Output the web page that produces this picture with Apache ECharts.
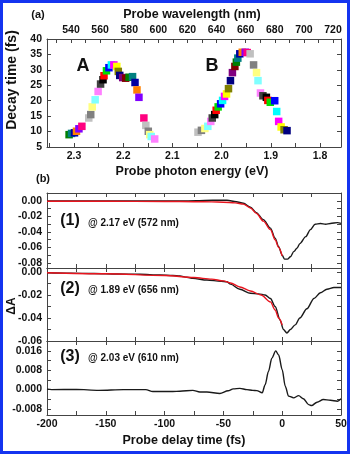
<!DOCTYPE html>
<html>
<head>
<meta charset="utf-8">
<script src="https://cdn.jsdelivr.net/npm/echarts@6/dist/echarts.min.js"></script>
<style>
  html, body { margin: 0; padding: 0; background: #fff; }
  #chart { width: 350px; height: 454px; }
</style>
</head>
<body>
<div id="chart"></div>
<script>
// panel (a): decay time vs probe photon energy
const energyA = [2.310, 2.305, 2.299, 2.295, 2.290, 2.284, 2.270, 2.266, 2.263, 2.257, 2.251, 2.246, 2.241, 2.239, 2.234, 2.229, 2.224, 2.219, 2.213, 2.210, 2.207, 2.201, 2.195, 2.188, 2.181, 2.176, 2.172, 2.168, 2.158, 2.154, 2.149, 2.146, 2.143, 2.136]
const decayA = [9.0, 9.4, 9.6, 10.1, 10.9, 11.7, 14.4, 15.5, 18.0, 20.3, 23.0, 25.4, 26.8, 28.1, 29.7, 30.7, 31.6, 31.6, 31.1, 29.5, 28.2, 27.5, 27.3, 27.6, 27.8, 25.9, 23.5, 21.1, 14.4, 12.0, 10.1, 9.0, 8.4, 7.6]
const energyB = [2.048, 2.041, 2.034, 2.028, 2.022, 2.019, 2.014, 2.011, 2.007, 2.002, 1.998, 1.994, 1.990, 1.986, 1.982, 1.978, 1.973, 1.970, 1.967, 1.963, 1.958, 1.952, 1.948, 1.942, 1.935, 1.929, 1.926, 1.921, 1.916, 1.909, 1.906, 1.901, 1.892, 1.888, 1.884, 1.879, 1.873, 1.867]
const decayB = [9.8, 10.4, 11.0, 11.7, 13.3, 14.4, 15.5, 16.9, 18.0, 19.0, 20.1, 21.4, 22.2, 23.9, 26.5, 29.1, 31.1, 32.5, 33.8, 35.2, 35.7, 35.7, 35.6, 35.2, 31.6, 29.1, 26.5, 22.5, 21.6, 21.1, 20.1, 19.5, 20.0, 16.5, 13.3, 11.5, 10.6, 10.3]

// panel (b): transients, time in fs
const time1Black = [-200, -180, -160, -140, -120, -100, -87, -73, -59, -47, -39, -33, -27, -22, -16, -10, -6, -3, 0, 2, 4.5, 7, 10, 12.5, 15, 20, 24, 28, 32.5, 37, 41, 47, 50]
const black1 = [0.000, 0.0002, 0.0001, 0.0002, 0.0001, 0.0002, 0.000, 0.0003, 0.001, 0.001, -0.001, -0.003, -0.008, -0.015, -0.024, -0.035, -0.048, -0.059, -0.070, -0.075, -0.075, -0.072, -0.065, -0.061, -0.055, -0.046, -0.037, -0.030, -0.029, -0.030, -0.029, -0.028, -0.029]
const time1Red = [-200, -150, -100, -75, -60, -50, -40, -33, -27, -22, -16, -10, -6, -3, 0]
const red1 = [-0.0003, -0.0004, -0.0006, -0.0009, -0.0012, -0.0016, -0.0025, -0.004, -0.009, -0.016, -0.026, -0.037, -0.050, -0.060, -0.071]

const time2Black = [-200, -180, -160, -140, -121, -104, -93, -87, -81, -76, -64, -52, -47, -44, -36, -27, -20, -14.5, -10, -6, -1.7, 1, 4, 7, 11, 15, 21, 27, 32.5, 38, 44, 50]
const black2 = [-0.0006, -0.001, -0.0013, -0.0017, -0.002, -0.0026, -0.003, -0.0035, -0.0045, -0.0055, -0.007, -0.008, -0.0085, -0.0105, -0.015, -0.0185, -0.019, -0.020, -0.023, -0.030, -0.042, -0.050, -0.053, -0.050, -0.046, -0.040, -0.032, -0.023, -0.018, -0.015, -0.0135, -0.0135]
const time2Red = [-200, -150, -100, -75, -60, -50, -44, -36, -27, -18, -10, -6, -3, 0]
const red2 = [-0.0006, -0.0015, -0.003, -0.0048, -0.0062, -0.0077, -0.0095, -0.013, -0.0165, -0.020, -0.026, -0.033, -0.040, -0.046]

const time3 = [-200, -196, -175, -156, -135, -116, -110, -93, -87, -76, -70, -64, -53, -46, -41.6, -36, -30, -25, -21.6, -17, -14.5, -11.7, -8.8, -5.5, -3, 0, 2.6, 5.4, 9.7, 14, 18, 22.5, 25, 29.6, 35, 41, 47, 50]
const black3 = [0.0002, 0.000, 0.0001, -0.0003, 0.000, 0.000, -0.0008, -0.0008, -0.0007, -0.0003, -0.001, -0.001, -0.0016, -0.0005, 0.0003, 0.0005, 0.000, -0.0003, -0.0004, -0.0013, 0.002, 0.0075, 0.013, 0.016, 0.0143, 0.0082, 0.0014, -0.0027, -0.0034, -0.0025, -0.0038, -0.0062, -0.0066, -0.0052, -0.0041, -0.0044, -0.0048, -0.0038]

// ticks and labels
const energyLabels = [2.3, 2.2, 2.1, 2.0, 1.9, 1.8]
const energyTicks = [2.35, 2.3, 2.25, 2.2, 2.15, 2.1, 2.05, 2.0, 1.95, 1.9, 1.85, 1.8]
const wavelengthLabels = [540, 560, 580, 600, 620, 640, 660, 680, 700, 720]
const wavelengthTicks = [530, 540, 550, 560, 570, 580, 590, 600, 610, 620, 630, 640, 650, 660, 670, 680, 690, 700, 710, 720]
const decayLabels = [5, 10, 15, 20, 25, 30, 35, 40]
const timeLabels = [-200, -150, -100, -50, 0, 50]
const timeTicks = [-175, -150, -125, -100, -75, -50, -25, 0, 25]
const dA1Labels = [0, -0.02, -0.04, -0.06, -0.08]
const dA1Ticks = [0.01, 0, -0.01, -0.02, -0.03, -0.04, -0.05, -0.06, -0.07, -0.08]
const dA2Labels = [0, -0.02, -0.04, -0.06]
const dA2Ticks = [0, -0.01, -0.02, -0.03, -0.04, -0.05]
const dA3Labels = [0.016, 0.008, 0, -0.008]
const dA3Ticks = [0.02, 0.016, 0.012, 0.008, 0.004, 0, -0.004, -0.008]

// Origin-like colour cycle for the squares
const originColors = ['#000000', '#ff0000', '#00e000', '#0000ff', '#00ffff', '#ff00ff', '#ffff00', '#808000', '#000080', '#800080', '#800000', '#008000', '#008080', '#0000a0', '#ff8000', '#8000ff', '#ff0080', '#c0c0c0', '#808080', '#ffff80', '#80ffff', '#ff80ff', '#404040']

const FONT = 'Liberation Sans'
const axisColor = '#444'
const textColor = '#111'

const zip = (a, b) => a.map((v, i) => [v, b[i]])

function xAx(gridIndex, position, min, max, ticks, labels, fmt, extra) {
  return Object.assign({
    type: 'value',
    gridIndex: gridIndex,
    position: position,
    min: min,
    max: max,
    axisLine: { show: true, onZero: false, lineStyle: { color: axisColor, width: 1 } },
    axisTick: { show: true, inside: true, length: 4, customValues: ticks, lineStyle: { color: axisColor } },
    axisLabel: labels ? {
      show: true, customValues: labels, formatter: fmt, margin: 4,
      fontFamily: FONT, fontWeight: 'bold', fontSize: 10.5, color: textColor
    } : { show: false },
    splitLine: { show: false }
  }, extra || {})
}

function yAx(gridIndex, position, min, max, ticks, labels, fmt) {
  return {
    type: 'value',
    gridIndex: gridIndex,
    position: position,
    min: min,
    max: max,
    axisLine: { show: true, onZero: false, lineStyle: { color: axisColor, width: 1 } },
    axisTick: { show: true, inside: true, length: 4, customValues: ticks, lineStyle: { color: axisColor } },
    axisLabel: labels ? {
      show: true, customValues: labels, formatter: fmt, margin: 5,
      fontFamily: FONT, fontWeight: 'bold', fontSize: 10.5, color: textColor
    } : { show: false },
    splitLine: { show: false }
  }
}

const chart = echarts.init(document.getElementById('chart'), null, { renderer: 'canvas' })

const txt = (text, x, y, size, extra) => Object.assign({
  type: 'text', x: x, y: y, z: 10,
  style: { text: text, font: 'bold ' + size + 'px "' + FONT + '"', fill: textColor, align: 'center', verticalAlign: 'middle' }
}, extra || {})

chart.setOption({
  animation: false,
  backgroundColor: '#fff',
  grid: [
    { left: 47, top: 39, width: 294, height: 108 },
    { left: 47, top: 193, width: 294, height: 75 },
    { left: 47, top: 268, width: 294, height: 73 },
    { left: 47, top: 341, width: 294, height: 74 }
  ],
  xAxis: [
    xAx(0, 'bottom', 1.7573, 2.3549, energyTicks, energyLabels, v => v.toFixed(1), { inverse: true }),
    xAx(0, 'top', 523.5, 725.5, wavelengthTicks, wavelengthLabels, v => String(v), { axisLabel: {
      show: true, customValues: wavelengthLabels, margin: 3,
      fontFamily: FONT, fontWeight: 'bold', fontSize: 10.5, color: textColor } }),
    xAx(1, 'bottom', -200, 50, timeTicks, null),
    xAx(1, 'top', -200, 50, timeTicks, null),
    xAx(2, 'bottom', -200, 50, timeTicks, null),
    xAx(2, 'top', -200, 50, timeTicks, null),
    xAx(3, 'bottom', -200, 50, timeTicks, timeLabels, v => String(v)),
    xAx(3, 'top', -200, 50, timeTicks, null)
  ],
  yAxis: [
    yAx(0, 'left', 5, 40, decayLabels, decayLabels, v => String(v)),
    yAx(0, 'right', 5, 40, decayLabels, null),
    yAx(1, 'left', -0.0865, 0.0103, dA1Ticks, dA1Labels, v => v.toFixed(2)),
    yAx(1, 'right', -0.0865, 0.0103, dA1Ticks, null),
    yAx(2, 'left', -0.06, 0.0035, dA2Ticks, dA2Labels, v => v.toFixed(2)),
    yAx(2, 'right', -0.06, 0.0035, dA2Ticks, null),
    yAx(3, 'left', -0.0105, 0.0201, dA3Ticks, dA3Labels, v => v.toFixed(3)),
    yAx(3, 'right', -0.0105, 0.0201, dA3Ticks, null)
  ],
  series: [
    {
      type: 'scatter', xAxisIndex: 0, yAxisIndex: 0,
      symbol: 'rect', symbolSize: 7.5,
      data: zip(energyA, decayA),
      itemStyle: { opacity: 1, color: p => originColors[(p.dataIndex + 11) % originColors.length] }
    },
    {
      type: 'scatter', xAxisIndex: 0, yAxisIndex: 0,
      symbol: 'rect', symbolSize: 7.5,
      data: zip(energyB, decayB),
      itemStyle: { opacity: 1, color: p => originColors[(p.dataIndex + 17) % originColors.length] }
    },
    {
      type: 'line', xAxisIndex: 2, yAxisIndex: 2, data: zip(time1Black, black1),
      showSymbol: false, smooth: 0.3, smoothMonotone: 'x',
      lineStyle: { color: '#1a1a1a', width: 1.4 }, z: 2
    },
    {
      type: 'line', xAxisIndex: 2, yAxisIndex: 2, data: zip(time1Red, red1),
      showSymbol: false, smooth: 0.3, smoothMonotone: 'x',
      lineStyle: { color: '#e8141e', width: 1.4 }, z: 3
    },
    {
      type: 'line', xAxisIndex: 4, yAxisIndex: 4, data: zip(time2Black, black2),
      showSymbol: false, smooth: 0.3, smoothMonotone: 'x',
      lineStyle: { color: '#1a1a1a', width: 1.4 }, z: 2
    },
    {
      type: 'line', xAxisIndex: 4, yAxisIndex: 4, data: zip(time2Red, red2),
      showSymbol: false, smooth: 0.3, smoothMonotone: 'x',
      lineStyle: { color: '#e8141e', width: 1.4 }, z: 3
    },
    {
      type: 'line', xAxisIndex: 6, yAxisIndex: 6, data: zip(time3, black3),
      showSymbol: false, smooth: 0.3, smoothMonotone: 'x',
      lineStyle: { color: '#1a1a1a', width: 1.4 }, z: 2
    }
  ],
  graphic: [
    {
      type: 'rect', z: 20,
      shape: { x: 1.5, y: 1.5, width: 347, height: 451 },
      style: { fill: 'none', stroke: '#1434f0', lineWidth: 3 }
    },
    txt('(a)', 38, 15, 11),
    txt('Probe wavelength (nm)', 192, 15, 12.5),
    txt('Decay time (fs)', 12, 80, 14, { rotation: Math.PI / 2 }),
    txt('A', 83, 66, 18),
    txt('B', 212, 66, 18),
    txt('Probe photon energy (eV)', 192, 172, 12.5),
    txt('(b)', 43, 179, 11),
    txt('(1)', 70, 221, 16),
    txt('@ 2.17 eV (572 nm)', 88, 223, 10, { style: { text: '@ 2.17 eV (572 nm)', font: 'bold 10px "' + FONT + '"', fill: textColor, align: 'left', verticalAlign: 'middle' } }),
    txt('(2)', 70, 289, 16),
    txt('@ 1.89 eV (656 nm)', 88, 290, 10, { style: { text: '@ 1.89 eV (656 nm)', font: 'bold 10px "' + FONT + '"', fill: textColor, align: 'left', verticalAlign: 'middle' } }),
    txt('(3)', 70, 357, 16),
    txt('@ 2.03 eV (610 nm)', 88, 358, 10, { style: { text: '@ 2.03 eV (610 nm)', font: 'bold 10px "' + FONT + '"', fill: textColor, align: 'left', verticalAlign: 'middle' } }),
    txt('\u0394A', 12, 306, 12, { rotation: Math.PI / 2 }),
    txt('Probe delay time (fs)', 184, 441, 12.5)
  ]
})
</script>
</body>
</html>
